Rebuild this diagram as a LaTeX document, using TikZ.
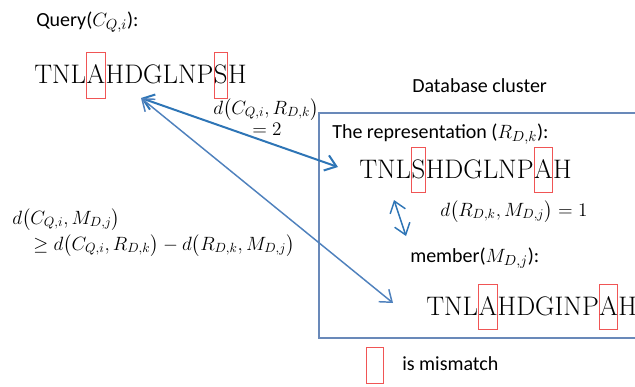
\documentclass[tikz,border=0pt]{standalone}
\usepackage{amsmath}
\usepackage{amssymb}
\usepackage{fontspec}
\newfontfamily\calibri{Carlito}
\usetikzlibrary{arrows.meta}

\definecolor{misred}{RGB}{240,85,85}
\definecolor{linkblue}{RGB}{46,117,182}
\definecolor{steelblue}{RGB}{79,129,189}
\definecolor{boxblue}{RGB}{105,137,185}

\tikzset{
	seq/.style={font=\fontsize{20.1}{24}\selectfont, inner sep=0pt, anchor=base west},
	lbl/.style={font=\calibri\fontsize{15}{18}\selectfont, inner sep=0pt, anchor=base west},
	dist/.style={font=\fontsize{13.6}{16}\selectfont, inner sep=0pt, anchor=base west},
	mismatch/.style={draw=misred, line width=0.7pt, inner sep=0pt, text height=23.2pt, text depth=11.2pt},
	link/.style={{Straight Barb[length=8pt,width=12pt]}-{Straight Barb[length=8pt,width=12pt]}, line width=1.1pt}
}

\newcommand\mis[1]{\tikz[baseline=(m.base)]\node[mismatch] (m) {#1};}

\begin{document}
\begin{tikzpicture}[x=0.75pt,y=-0.75pt]

	\useasboundingbox (0,0) rectangle (635,386);

	\node[lbl] (qlabel) at (36,26) {Query($C_{Q,i}$):};
	\node[seq] (query) at (34,83.5) {TNL\mis{A}HDGLNP\mis{S}H};

	\node[lbl] (dbtitle) at (412,92) {Database cluster};
	\draw[boxblue, line width=1.1pt] (636,113) -- (319,113) -- (319,338) -- (636,338);

	\node[lbl] (rlabel) at (332,138) {The representation ($R_{D,k}$):};
	\node[seq] (rep) at (359,178) {TNL\mis{S}HDGLNP\mis{A}H};

	\node[dist] (drm) at (440,216) {$d\bigl(R_{D,k}, M_{D,j}\bigr) = 1$};

	\node[lbl] (mlabel) at (410,262) {member($M_{D,j}$):};
	\node[seq] (member) at (426,315) {TNL\mis{A}HDGINP\mis{A}H};

	\node[dist] (dcr) at (213,114) {$d\bigl(C_{Q,i}, R_{D,k}\bigr)$};
	\node[dist] (dcrval) at (252,135) {$= 2$};

	\node[dist] (bound) at (12,224) {$d\bigl(C_{Q,i}, M_{D,j}\bigr)$};
	\node[dist] (boundrhs) at (33,250) {$\geq d\bigl(C_{Q,i}, R_{D,k}\bigr) - d\bigl(R_{D,k}, M_{D,j}\bigr)$};

	\coordinate (qa) at (141,98);
	\coordinate (rin) at (338,167);
	\coordinate (min) at (393,303);
	\coordinate (rdown) at (394,200);
	\coordinate (mup) at (406,236);

	\draw[link, linkblue, line width=1.5pt] (qa) -- (rin);
	\draw[link, steelblue] (qa) -- (min);
	\draw[link, linkblue] (rdown) -- (mup);

	\draw[misred, line width=0.7pt] (366,347) rectangle (383,383);
	\node[lbl] (legend) at (402,370) {is mismatch};

\end{tikzpicture}
\end{document}
